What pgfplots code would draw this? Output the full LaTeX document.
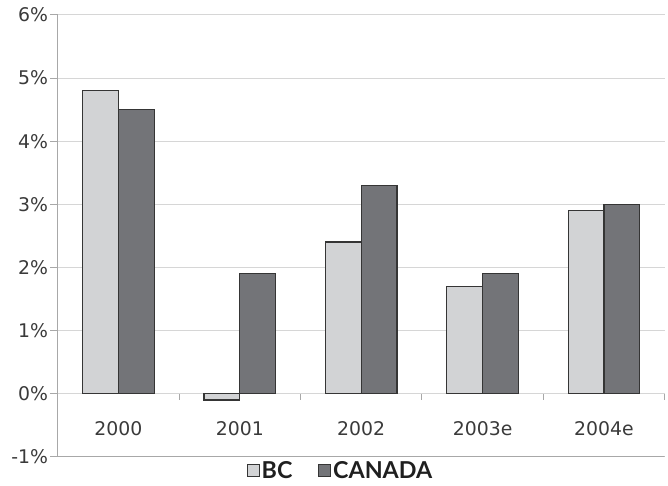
\documentclass[border=0pt]{standalone}
\usepackage{pgfplots}
\pgfplotsset{compat=1.18}
\usepackage{fontspec}
\setmainfont{DejaVu Sans}
\newfontfamily\legfont{Lato}
\definecolor{bcfill}{HTML}{D2D3D5}
\definecolor{cafill}{HTML}{737478}
\definecolor{barline}{HTML}{353535}
\definecolor{gridc}{HTML}{D6D6D6}
\definecolor{axc}{HTML}{A8A8A8}
\definecolor{txt}{HTML}{3A3A3A}

\begin{document}
\begin{tikzpicture}
\begin{axis}[
  scale only axis, width=610bp, height=444bp,
  xmin=-0.5, xmax=4.5, ymin=-1, ymax=6,
  ybar=0pt, bar width=36bp,
  axis y line*=left, axis x line*=middle,
  hide obscured x ticks=false, hide obscured y ticks=false,
  y axis line style={axc, line width=0.9bp},
  x axis line style={gridc, line width=0.9bp},
  ytick={-1,0,1,2,3,4,5,6},
  yticklabels={-1\%,0\%,1\%,2\%,3\%,4\%,5\%,6\%},
  ymajorgrids, major grid style={gridc, line width=0.9bp},
  y tick style={axc, line width=0.9bp},
  ytick align=outside, major tick length=8bp,
  xtick={0,1,2,3,4},
  xticklabels={2000,2001,2002,2003e,2004e},
  x tick style={draw=none},
  extra x ticks={-0.5,0.5,1.5,2.5,3.5,4.5},
  extra x tick labels={},
  extra x tick style={xtick align=outside, major tick length=6bp,
    x tick style={draw=axc, line width=0.9bp}},
  ticklabel style={font=\fontsize{19}{20}\selectfont, text=txt},
  yticklabel style={inner sep=1.5bp},
  xticklabel style={yshift=-17bp},
  legend style={at={(0.466,0)}, anchor=north, yshift=-0.5bp,
    legend columns=2, draw=none, fill=none,
    font=\legfont\bfseries\fontsize{23.5}{23.5}\selectfont, text=black!88,
    /tikz/every even column/.append style={column sep=24bp}},
  legend image code/.code={\draw[#1, draw=barline, line width=0.9bp] (0bp,-6bp) rectangle (12bp,6bp);},
]
\addplot[fill=bcfill, draw=barline, line width=1.3bp] coordinates {
  (0,4.8) (1,-0.1) (2,2.4) (3,1.7) (4,2.9)
};
\addlegendentry{BC}
\addplot[fill=cafill, draw=barline, line width=1.3bp] coordinates {
  (0,4.5) (1,1.9) (2,3.3) (3,1.9) (4,3.0)
};
\addlegendentry{CANADA}
\draw[axc, line width=1.6bp] (axis cs:-0.5,-1) -- (axis cs:4.5,-1);
\end{axis}
\path[use as bounding box] (-58bp,-29bp) rectangle (610bp,459bp);
\end{tikzpicture}
\end{document}
